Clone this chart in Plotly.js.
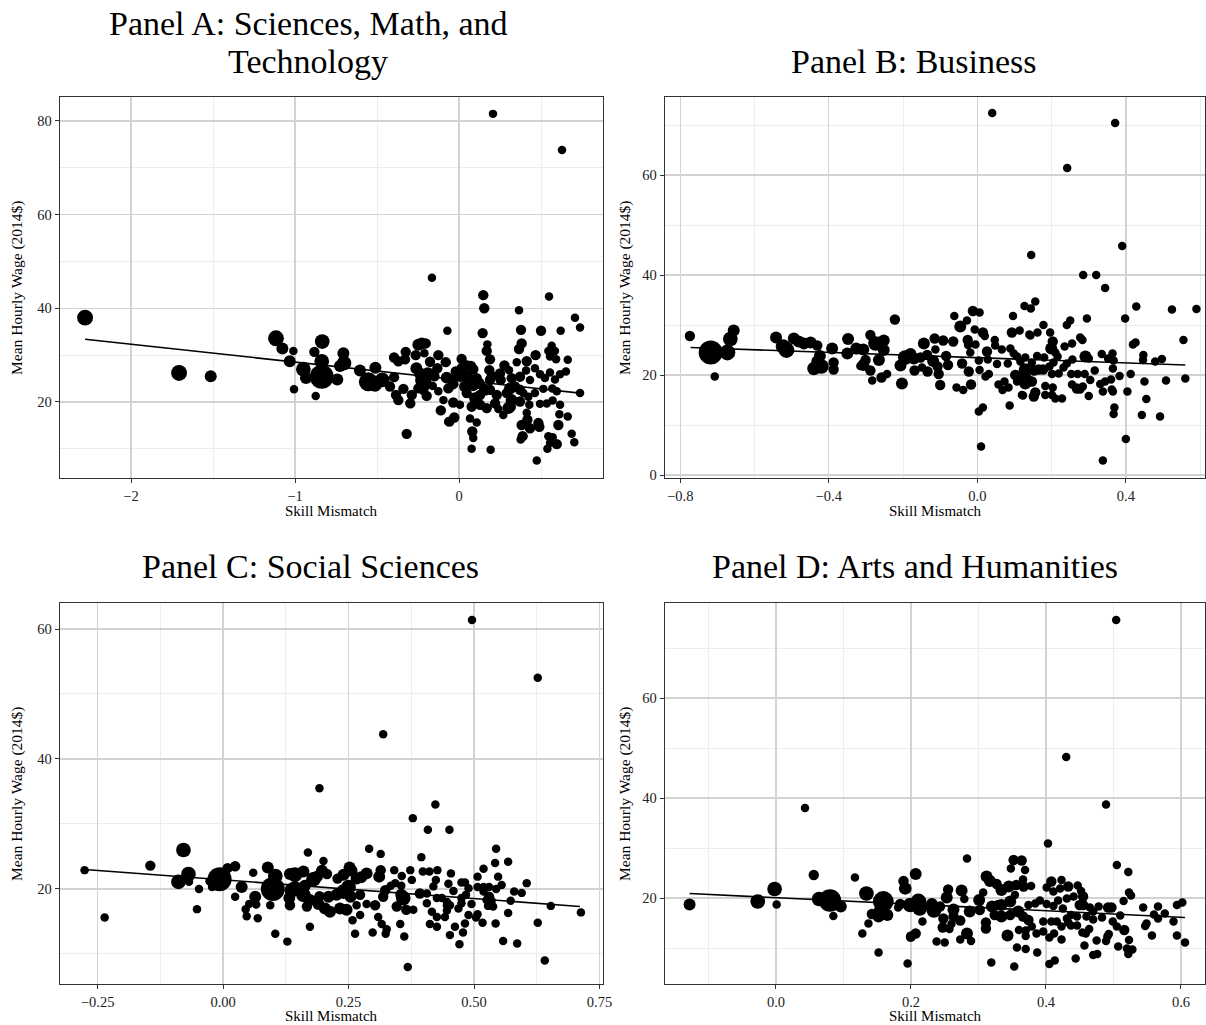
<!DOCTYPE html>
<html>
<head>
<meta charset="utf-8">
<script src="https://cdn.plot.ly/plotly-3.0.1.min.js"></script>
<style>html,body{margin:0;padding:0;background:#fff;}#chart{width:1206px;height:1025px;}</style>
</head>
<body>
<div id="chart"></div>
<script>
// ---------- DATA: [skill mismatch, mean hourly wage (2014$), weight] ----------
const panelA_points = [
[-2.28,38.0,3.5],[-1.707,26.2,3.5],[-1.514,25.5,2],[-1.116,33.6,3.5],[-1.077,31.4,2],[-1.01,30.9,1],[-1.032,28.7,2],[-1.006,22.7,1],
[-0.834,32.9,3],[-0.882,30.7,1.5],[-0.837,28.7,3],[-0.949,27.0,3],[-0.933,25.1,2],[-0.837,25.4,8],[-0.874,21.3,1],[-0.742,24.8,2],
[-0.726,27.7,2],[-0.701,28.3,3],[-0.705,30.4,2],[-0.604,26.7,2],[-0.510,27.3,2],[-0.553,24.3,5],[-0.512,23.6,2.5],[-0.468,24.7,3],
[-0.396,25.3,1.5],[-0.421,23.3,1.5],[-0.384,21.5,1.5],[-0.37,20.4,1.5],[-0.339,22.8,1.5],[-0.319,13.2,1.5],[-0.297,19.7,1.5],[-0.288,21.5,1.5],
[-0.396,29.5,1.5],[-0.37,28.7,1.5],[-0.329,29.1,1.5],[-0.325,30.7,1.5],[-0.264,30.0,1.5],[-0.248,32.2,2],[-0.227,32.5,2],[-0.203,32.5,1.5],
[-0.211,30.4,1],[-0.26,27.2,2],[-0.238,26.1,2],[-0.227,24.7,2.5],[-0.248,22.9,1.5],[-0.218,22.6,1.5],[-0.197,21.3,1.5],[-0.160,23.4,1],
[-0.177,28.6,1.5],[-0.126,30.0,1.5],[-0.132,27.2,1.5],[-0.081,28.5,1.5],[-0.071,35.2,1],[-0.075,25.2,2],[-0.126,22.3,1],[-0.095,20.4,1],
[-0.111,18.2,1.5],[-0.065,15.8,1],[-0.165,46.5,1],[0.207,81.5,1],[0.628,73.8,1],[0.148,42.8,1.5],[0.154,40.0,1.5],[0.549,42.5,1],
[0.366,39.6,1],[0.707,38.0,1],[0.738,35.9,1],[0.144,34.7,1.5],[0.378,35.4,1.5],[0.5,35.2,1.5],[0.62,35.2,1],[0.173,32.3,1],
[0.169,30.9,1.5],[0.382,32.5,1.5],[0.366,31.3,1.5],[0.467,30.0,1.5],[0.545,30.9,1],[0.565,32.0,1],[0.585,30.9,1],[0.555,29.7,1],
[0.592,29.1,1],[0.663,29.0,1],[0.189,29.1,1.5],[0.016,29.2,1.5],[0.352,28.5,1],[0.413,28.7,1.5],[0.073,27.7,1.5],[0.087,27.0,1.5],
[0.185,26.8,1.5],[0.25,26.1,1.5],[0.277,27.8,1.5],[0.305,26.8,1],[0.409,26.7,1],[0.463,27.2,1],[0.555,26.3,1],[0.652,26.5,1],
[0.616,25.9,1],[0.585,24.8,1],[0.494,25.9,1],[0.524,25.1,1],[0.433,24.7,1],[0.372,25.4,1.5],[0.321,25.1,1.5],[0.254,24.7,1.5],
[0.189,24.7,1.5],[0.108,25.1,1.5],[0.016,27.2,1.5],[0.006,25.4,1.5],[-0.039,24.7,1.5],[-0.065,22.9,1.5],[-0.035,23.8,1.5],[0.037,23.3,2],
[0.047,21.9,1.5],[0.087,23.6,2],[0.098,20.8,2],[0.128,21.5,1.5],[0.159,22.6,2],[0.189,22.6,1.5],[0.230,21.5,1.5],[0.291,21.9,1.5],
[0.311,22.9,2],[0.341,23.3,1.5],[0.372,22.6,1.5],[0.392,21.9,1],[0.423,21.1,1],[0.463,21.9,1],[0.514,22.8,1],[0.569,22.9,1],
[0.596,22.3,1],[0.494,19.6,1],[0.535,19.7,1],[0.571,20.3,1],[0.616,19.4,1],[0.738,21.9,1],[-0.035,19.9,1.5],[0.006,19.4,1],
[0.077,19.0,1.5],[0.128,19.4,1.5],[0.169,18.7,1.5],[0.22,19.7,1.5],[0.240,18.5,1],[0.270,17.2,1],[0.311,19.0,2],[0.372,20.1,1.5],
[0.413,17.7,1],[0.429,19.4,1],[0.484,15.5,1.5],[0.490,14.7,1.5],[0.417,16.2,1.5],[0.382,15.1,1.5],[0.388,12.7,1.5],[0.376,12.0,1],
[0.433,14.4,1.5],[0.606,15.1,1.5],[0.612,17.4,1],[0.663,16.9,1],[0.687,13.2,1],[0.703,11.4,1],[0.545,12.7,1],[0.571,12.5,1],
[0.555,11.3,1],[0.596,11.0,1.5],[0.539,10.0,1],[0.474,7.5,1],[0.193,9.8,1],[0.077,10.0,1],[0.081,13.7,1.5],[0.087,12.3,1],
[0.108,15.6,1],[0.067,16.5,1],[-0.029,16.7,1.5],[-0.059,15.8,1.5],[0.301,18.7,2],[0.321,20.4,2],[-0.19,26.0,2.5],[-0.21,24.0,3],
[-0.15,25.5,1.5],[-0.02,26.5,1.5],[0.05,25.5,2],[0.12,24.0,2],[0.2,25.5,1.5],[0.05,27.8,1.5]
];
const panelB_points = [
[-0.774,27.8,1.5],[-0.718,24.5,8],[-0.707,19.7,1],[-0.673,24.5,3.5],[-0.665,27.2,3],[-0.656,28.9,2],[-0.542,27.5,2],[-0.523,25.7,3],
[-0.514,25.0,3.5],[-0.494,27.3,2],[-0.481,26.7,2],[-0.467,26.3,2],[-0.449,26.5,2],[-0.431,25.9,1.5],[-0.424,23.8,2],[-0.431,22.7,2],
[-0.440,21.3,2.5],[-0.42,21.7,3],[-0.391,25.3,2],[-0.387,22.5,1.5],[-0.387,21.1,1.5],[-0.348,27.2,2],[-0.35,24.3,2],[-0.326,25.3,2],
[-0.315,21.8,1],[-0.222,31.1,1.5],[-0.288,28.0,1.5],[-0.274,26.3,3],[-0.252,26.9,2],[-0.307,25.1,2],[-0.252,25.0,2],[-0.301,23.0,1.5],
[-0.265,23.0,2],[-0.307,22.0,2],[-0.288,20.9,1.5],[-0.283,18.9,1],[-0.258,19.5,1.5],[-0.243,20.2,1],[-0.207,21.9,2],[-0.203,18.3,2],
[-0.194,23.5,3],[-0.180,24.2,2],[-0.171,23.3,2],[-0.169,20.9,1.5],[-0.153,23.5,1.5],[-0.149,21.5,1],[-0.144,26.3,2],[-0.135,24.0,1.5],
[-0.134,20.7,1.5],[-0.119,22.8,2],[-0.115,27.3,1.5],[-0.113,25.1,1],[-0.107,21.7,1.5],[-0.104,20.2,1.5],[-0.1,18.0,1.5],[-0.092,26.9,1.5],
[-0.084,23.8,1.5],[-0.079,22.0,1.5],[-0.065,26.7,1.5],[-0.062,31.8,1],[-0.056,17.5,1],[-0.046,29.7,2],[-0.041,22.3,1.5],[-0.038,17.0,1],
[-0.028,30.9,1],[-0.026,27.0,1.5],[-0.025,26.0,1],[-0.023,20.7,1.5],[-0.019,24.5,1],[-0.017,18.1,1.5],[-0.012,32.8,1.5],[-0.007,29.1,1],
[-0.005,26.1,1],[0.004,22.9,1],[0.006,32.5,1],[0.006,21.0,1],[0.004,12.7,1],[0.015,13.5,1],[0.01,5.7,1],[0.015,28.5,1.5],
[0.020,27.8,1],[0.026,24.7,1.5],[0.028,23.1,1],[0.022,19.7,1],[0.031,20.2,1],[0.047,27.0,1],[0.048,25.9,1],[0.053,22.2,1],
[0.057,18.1,1],[0.066,25.1,1],[0.068,17.0,1],[0.073,18.7,1],[0.082,22.3,1],[0.084,17.5,1],[0.087,13.9,1],[0.089,25.3,1],
[0.093,28.5,1.5],[0.096,31.8,1],[0.098,24.3,1],[0.102,20.0,1.5],[0.107,23.7,1],[0.107,18.7,1],[0.114,28.9,1],[0.116,22.7,1],
[0.120,16.0,1],[0.125,19.7,2],[0.127,33.8,1],[0.129,18.3,2],[0.140,28.1,1],[0.144,33.3,1],[0.156,34.7,1],[0.178,30.0,1],
[0.162,28.5,1],[0.143,27.9,1],[0.196,28.5,1],[0.203,26.7,1.5],[0.199,25.3,2],[0.210,24.5,1],[0.216,23.7,1],[0.235,25.7,1],
[0.255,26.3,1],[0.241,30.0,1],[0.250,30.9,1],[0.295,31.3,1],[0.277,27.5,1],[0.283,27.0,1],[0.129,23.5,1],[0.161,23.8,1],
[0.180,23.5,1],[0.147,22.5,1],[0.205,22.5,1],[0.241,22.3,1],[0.256,23.1,1],[0.291,23.7,2],[0.300,23.3,1],[0.335,24.2,1],
[0.352,23.3,1],[0.364,24.3,1],[0.367,22.9,1],[0.129,21.0,2.5],[0.125,20.2,2],[0.129,19.0,3],[0.147,18.7,1.5],[0.153,20.9,1.5],
[0.165,21.1,1.5],[0.177,21.1,1.5],[0.194,21.7,1],[0.201,20.2,1],[0.219,20.3,1],[0.232,21.5,1],[0.253,20.2,1],[0.27,20.2,1],
[0.289,20.2,1],[0.316,20.9,1],[0.304,19.0,1],[0.331,18.2,1],[0.344,18.7,1],[0.360,19.1,1],[0.365,21.3,1],[0.383,19.8,1],
[0.413,20.2,1],[0.255,18.1,1],[0.268,17.3,1.5],[0.277,17.1,1],[0.284,17.7,1],[0.300,15.8,1],[0.183,17.8,1],[0.203,17.5,1],
[0.183,16.0,1],[0.201,16.0,1],[0.210,15.3,1],[0.228,15.3,1],[0.156,16.5,1.5],[0.152,15.7,1.5],[0.123,15.9,1],[0.338,16.7,1],
[0.362,17.1,1],[0.365,16.7,1],[0.404,16.7,1],[0.369,13.5,1],[0.367,12.2,1],[0.400,7.2,1],[0.338,2.9,1],[0.398,31.3,1],
[0.419,26.1,1],[0.426,26.5,1],[0.428,33.7,1],[0.447,24.0,1],[0.446,23.0,1],[0.479,22.7,1],[0.497,23.2,1],[0.450,18.7,1],
[0.455,15.2,1],[0.443,12.0,1],[0.492,11.7,1],[0.508,18.9,1],[0.524,33.1,1],[0.555,27.0,1],[0.560,19.3,1],[0.59,33.2,1],
[0.04,72.4,1],[0.371,70.4,1],[0.242,61.4,1],[0.145,44.0,1],[0.39,45.8,1],[0.285,40.0,1],[0.32,40.0,1],[0.344,37.4,1]
];
const panelC_points = [
[-0.276,22.9,1],[-0.236,15.6,1],[-0.145,23.6,1.5],[-0.079,26.0,3],[-0.069,22.3,3],[-0.089,21.1,3],[-0.068,21.1,1],[-0.052,16.9,1],
[-0.048,20.0,1],[-0.027,21.2,1],[-0.022,20.3,1],[-0.007,21.5,8],[0.009,23.2,1.5],[0.024,23.5,1.5],[0.024,18.8,1],[0.037,20.3,2],
[0.045,16.9,1],[0.047,15.8,1],[0.052,17.7,1],[0.060,22.5,1],[0.064,18.8,2],[0.066,17.6,1],[0.069,15.5,1],[0.089,23.3,2],
[0.094,17.5,1],[0.104,13.1,1],[0.099,20.0,8],[0.104,22.0,3],[0.128,11.9,1],[0.133,22.3,2],[0.132,18.6,2],[0.135,17.5,1],
[0.143,20.1,3],[0.192,35.5,1],[0.423,33.0,1],[0.378,30.9,1],[0.408,29.1,1],[0.451,29.1,1],[0.169,25.6,1],[0.2,24.3,1],
[0.291,26.2,1],[0.314,25.4,1],[0.395,24.9,1],[0.143,22.2,3],[0.160,22.7,2],[0.180,21.5,3],[0.187,21.9,2],[0.197,22.8,2],
[0.207,22.3,1.5],[0.228,21.6,1.5],[0.240,22.2,2],[0.252,23.3,2],[0.256,22.8,2],[0.266,21.6,2],[0.275,21.8,2],[0.286,22.4,2],
[0.311,21.9,2],[0.314,22.9,1.5],[0.341,22.9,1],[0.356,22.0,1],[0.373,22.9,1],[0.376,21.4,1],[0.398,22.7,1],[0.411,22.7,1],
[0.427,22.9,1],[0.424,21.4,1],[0.137,19.8,3],[0.163,20.5,2],[0.160,19.1,3],[0.173,18.3,2],[0.192,18.9,1.5],[0.210,18.8,2],
[0.226,19.1,2],[0.240,19.6,3],[0.250,20.3,3],[0.254,18.8,2],[0.273,19.1,1.5],[0.286,17.7,1],[0.303,17.5,1.5],[0.319,18.8,1.5],
[0.323,19.8,1.5],[0.334,20.5,1],[0.343,20.9,1],[0.355,20.5,1],[0.355,19.1,2],[0.359,18.6,3],[0.346,17.3,1.5],[0.365,16.8,1.5],
[0.379,16.8,1],[0.392,19.3,1.5],[0.406,19.3,1],[0.419,20.4,1],[0.426,18.6,1],[0.436,18.6,1],[0.446,18.0,1],[0.406,17.8,1],
[0.416,16.5,1],[0.426,15.7,1],[0.442,15.7,1],[0.412,14.6,1],[0.426,14.2,1],[0.133,17.5,1.5],[0.167,17.3,1.5],[0.190,17.7,2],
[0.203,17.0,2],[0.213,16.5,2],[0.233,17.0,2],[0.246,16.8,2],[0.266,17.5,1],[0.273,16.0,1],[0.258,15.2,1],[0.309,15.7,1],
[0.316,14.6,1],[0.326,13.8,1],[0.324,13.1,1],[0.298,13.3,1],[0.263,13.1,1],[0.353,14.6,1],[0.361,12.7,1],[0.173,14.2,1],
[0.368,8.0,1],[0.452,12.9,1],[0.544,26.2,1],[0.542,24.0,1],[0.568,24.2,1],[0.519,23.1,1],[0.454,22.4,1],[0.548,21.9,1],
[0.507,21.9,1],[0.475,21.0,1],[0.482,21.0,1],[0.449,20.8,1],[0.459,19.7,1],[0.489,20.1,1],[0.507,20.3,1],[0.519,20.3,1],
[0.530,20.3,1],[0.519,19.6,1],[0.544,20.0,1],[0.555,20.6,1],[0.580,19.6,1],[0.595,19.4,1],[0.605,20.9,1],[0.484,19.1,1],
[0.475,18.6,1],[0.530,18.8,1.5],[0.525,18.3,1],[0.535,18.2,1],[0.573,18.2,1],[0.446,17.5,1],[0.452,17.5,1],[0.475,17.8,1],
[0.495,17.7,1],[0.528,17.4,1],[0.538,17.3,1],[0.446,16.7,1],[0.469,17.0,1],[0.489,16.0,1],[0.507,16.1,1],[0.504,15.6,1],
[0.568,16.3,1],[0.462,14.2,1],[0.482,14.7,1],[0.517,14.8,1],[0.543,14.7,1],[0.478,13.3,1],[0.471,11.5,1],[0.558,12.0,1],
[0.586,11.6,1],[0.627,14.8,1],[0.653,17.4,1],[0.713,16.4,1],[0.641,9.0,1],[0.496,61.4,1],[0.627,52.5,1],[0.319,43.8,1]
];
const panelD_points = [
[-0.128,18.7,2],[-0.027,19.3,3],[-0.002,21.8,3],[0.001,18.7,1],[0.056,24.6,1.5],[0.064,19.8,3],[0.080,19.5,7],[0.096,18.3,2],
[0.085,16.4,1],[0.117,24.1,1],[0.134,20.9,3],[0.159,19.3,6],[0.153,17.3,2],[0.142,16.8,1.5],[0.152,16.3,2],[0.165,16.6,2],
[0.137,14.9,1],[0.128,12.9,1],[0.152,9.1,1],[0.181,18.1,1],[0.185,18.8,1],[0.188,23.3,1],[0.192,21.9,2],[0.197,18.6,2],
[0.195,6.9,1],[0.199,12.1,1],[0.043,38.0,1],[0.403,30.9,1],[0.283,27.9,1],[0.352,27.6,1.5],[0.364,27.5,1.5],[0.348,25.9,1],
[0.369,25.6,1],[0.207,24.8,2],[0.189,23.4,1.5],[0.191,21.9,2],[0.312,24.3,2],[0.317,23.4,2],[0.327,22.8,1.5],[0.334,21.6,2],
[0.345,22.3,2],[0.356,22.6,1.5],[0.366,23.7,1],[0.367,22.3,1.5],[0.378,22.4,1],[0.401,22.1,1],[0.408,23.3,1.5],[0.411,21.3,1],
[0.255,21.7,1.5],[0.275,21.5,2],[0.253,20.1,2],[0.279,19.8,1],[0.307,21.1,1],[0.301,19.6,2],[0.334,18.6,2],[0.347,19.3,2],
[0.354,20.6,1],[0.374,18.6,1],[0.384,18.9,1],[0.391,19.5,1],[0.401,18.8,1],[0.411,18.4,1],[0.418,19.5,1],[0.184,18.8,1.5],
[0.199,18.6,3],[0.211,19.3,3.5],[0.213,17.9,3],[0.231,18.8,2],[0.234,17.5,3],[0.243,18.3,1.5],[0.263,17.7,2],[0.287,17.3,2],
[0.302,17.6,1.5],[0.320,18.3,2],[0.329,18.6,1.5],[0.324,16.6,1.5],[0.334,16.3,2],[0.347,16.6,1.5],[0.359,17.3,2],[0.366,16.3,1.5],
[0.374,15.6,1.5],[0.379,14.3,1],[0.396,15.3,1],[0.408,15.3,1],[0.416,15.3,1],[0.217,15.3,1],[0.248,15.9,1.5],[0.263,16.3,1.5],
[0.273,15.5,1.5],[0.260,14.8,1],[0.247,14.1,1.5],[0.257,13.8,1],[0.311,15.1,1.5],[0.311,13.9,1.5],[0.283,12.9,2],[0.207,12.9,1.5],
[0.200,12.3,1.5],[0.238,11.3,1],[0.250,11.1,1],[0.273,11.7,1],[0.289,11.4,1],[0.343,12.5,2],[0.360,13.6,1],[0.370,13.5,1],
[0.370,12.4,1],[0.386,12.9,1],[0.396,13.3,1],[0.405,12.1,1],[0.412,12.9,1],[0.357,10.1,1],[0.370,9.8,1],[0.387,9.1,1],
[0.319,7.1,1],[0.353,6.3,1],[0.405,6.8,1],[0.413,7.5,1],[0.489,38.7,1],[0.505,26.6,1],[0.522,25.2,1],[0.523,21.1,1],
[0.526,20.5,1],[0.515,19.4,1],[0.423,23.6,1],[0.421,21.9,1],[0.433,22.3,1.5],[0.447,22.5,1],[0.452,21.4,1],[0.455,20.3,1.5],
[0.441,20.3,1],[0.431,19.9,1],[0.425,17.9,1],[0.450,18.6,1.5],[0.455,18.6,1.5],[0.465,18.1,1],[0.478,18.3,1],[0.492,18.1,1.5],
[0.497,18.1,1.5],[0.510,16.5,1],[0.470,17.3,1],[0.483,16.1,1],[0.470,15.7,1],[0.460,16.3,1],[0.446,16.3,1],[0.437,16.6,1],
[0.431,15.9,1],[0.423,14.3,1],[0.433,15.1,1],[0.437,14.5,1],[0.446,14.5,1],[0.454,13.1,1],[0.459,12.9,1],[0.464,13.8,1],
[0.499,15.3,1],[0.505,14.3,1],[0.516,13.6,1.5],[0.491,12.3,1],[0.493,12.8,1],[0.489,11.4,1],[0.475,11.5,1],[0.457,10.5,1],
[0.423,11.7,1],[0.444,7.9,1],[0.470,8.6,1],[0.476,8.8,1],[0.507,10.3,1],[0.523,11.6,1],[0.520,9.9,1],[0.528,9.7,1],
[0.522,8.8,1],[0.544,18.1,1],[0.560,16.7,1],[0.566,18.3,1],[0.566,15.9,1],[0.576,16.9,1],[0.549,14.9,1],[0.547,14.4,1],
[0.557,12.5,1],[0.589,15.3,1],[0.594,18.6,1],[0.602,19.1,1],[0.594,12.5,1],[0.606,11.1,1],[0.504,75.6,1],[0.43,48.2,1]
];
// fitted lines (endpoints)
const fitA_x = [-2.28, 0.738], fitA_y = [33.4, 21.9];
const fitB_x = [-0.772, 0.560], fitB_y = [25.5, 22.0];
const fitC_x = [-0.276, 0.711], fitC_y = [23.0, 17.3];
const fitD_x = [-0.128, 0.606], fitD_y = [20.9, 16.1];

// titles and tick labels
const panelTitles = ["Panel A: Sciences, Math, and<br>Technology", "Panel B: Business", "Panel C: Social Sciences", "Panel D: Arts and Humanities"];
const xTitle = "Skill Mismatch";
const yTitle = "Mean Hourly Wage (2014$)";
const xTicksA = [-2, -1, 0], xLabelsA = ["\u22122", "\u22121", "0"];
const yTicksA = [20, 40, 60, 80], yLabelsA = ["20", "40", "60", "80"];
const xTicksB = [-0.8, -0.4, 0, 0.4], xLabelsB = ["\u22120.8", "\u22120.4", "0.0", "0.4"];
const yTicksB = [0, 20, 40, 60], yLabelsB = ["0", "20", "40", "60"];
const xTicksC = [-0.25, 0, 0.25, 0.5, 0.75], xLabelsC = ["\u22120.25", "0.00", "0.25", "0.50", "0.75"];
const yTicksC = [20, 40, 60], yLabelsC = ["20", "40", "60"];
const xTicksD = [0, 0.2, 0.4, 0.6], xLabelsD = ["0.0", "0.2", "0.4", "0.6"];
const yTicksD = [20, 40, 60], yLabelsD = ["20", "40", "60"];
const xMinorA = [-2.5, -1.5, -0.5, 0.5], yMinorA = [10, 30, 50, 70];
const xMinorB = [-0.6, -0.2, 0.2, 0.6], yMinorB = [10, 30, 50, 70];
const xMinorC = [-0.125, 0.125, 0.375, 0.625], yMinorC = [10, 30, 50];
const xMinorD = [-0.1, 0.1, 0.3, 0.5], yMinorD = [10, 30, 50, 70];

// ---------- BUILD ----------
const W = 1206, H = 1025;
const FONT = "Liberation Serif, Times New Roman, serif";
const sizeRef = 1 / 36;

function scatter(points, xa, ya) {
  return {
    type: "scatter", mode: "markers", xaxis: xa, yaxis: ya,
    x: points.map(p => p[0]), y: points.map(p => p[1]),
    marker: { size: points.map(p => p[2]), sizemode: "area", sizeref: sizeRef, color: "#000", opacity: 1, line: { width: 0 } },
    hoverinfo: "skip"
  };
}
function fit(xs, ys, xa, ya) {
  return { type: "scatter", mode: "lines", x: xs, y: ys, xaxis: xa, yaxis: ya,
    line: { color: "#000", width: 1.6 }, hoverinfo: "skip" };
}
function axis(domain, range, tickvals, ticktext, minorvals, anchor) {
  return {
    domain: domain, range: range, anchor: anchor, autorange: false,
    tickmode: "array", tickvals: tickvals, ticktext: ticktext,
    showline: true, linecolor: "#333", linewidth: 1.4, mirror: true,
    ticks: "outside", ticklen: 4, tickwidth: 1, tickcolor: "#333",
    showgrid: true, gridcolor: "#d2d2d2", gridwidth: 1.3, zeroline: false,
    tickfont: { family: FONT, size: 14.5, color: "#222" },
    minor: { tickmode: "array", tickvals: minorvals, showgrid: true, gridcolor: "#ededed", gridwidth: 1, ticks: "" },
    fixedrange: true
  };
}
const px = v => v / W, py = v => 1 - v / H;

const data = [
  scatter(panelA_points, "x", "y"), fit(fitA_x, fitA_y, "x", "y"),
  scatter(panelB_points, "x2", "y2"), fit(fitB_x, fitB_y, "x2", "y2"),
  scatter(panelC_points, "x3", "y3"), fit(fitC_x, fitC_y, "x3", "y3"),
  scatter(panelD_points, "x4", "y4"), fit(fitD_x, fitD_y, "x4", "y4")
];

const topRowY = [py(477.7), py(97)], botRowY = [py(984), py(603)];
const leftX = [px(60), px(603)], rightX = [px(665), px(1205)];

const layout = {
  width: W, height: H, margin: { l: 0, r: 0, t: 0, b: 0 },
  paper_bgcolor: "#fff", plot_bgcolor: "#fff", showlegend: false,
  font: { family: FONT, color: "#000" },
  xaxis: axis(leftX, [-2.433, 0.878], xTicksA, xLabelsA, xMinorA, "y"),
  yaxis: axis(topRowY, [3.84, 85.1], yTicksA, yLabelsA, yMinorA, "x"),
  xaxis2: axis(rightX, [-0.841, 0.613], xTicksB, xLabelsB, xMinorB, "y2"),
  yaxis2: axis(topRowY, [-0.54, 75.6], yTicksB, yLabelsB, yMinorB, "x2"),
  xaxis3: axis(leftX, [-0.325, 0.757], xTicksC, xLabelsC, xMinorC, "y3"),
  yaxis3: axis(botRowY, [5.38, 64.0], yTicksC, yLabelsC, yMinorC, "x3"),
  xaxis4: axis(rightX, [-0.1644, 0.6356], xTicksD, xLabelsD, xMinorD, "y4"),
  yaxis4: axis(botRowY, [2.8, 79.0], yTicksD, yLabelsD, yMinorD, "x4"),
  annotations: []
};

// panel titles; multi-line titles are stacked line by line
const titleCenters = [[308, 23, 38], [914, 61, 0], [310, 566, 0], [915, 566, 0]];
panelTitles.forEach((t, i) => {
  const lines = t.split("<br>");
  const [cx, cy, step] = titleCenters[i];
  lines.forEach((ln, k) => {
    layout.annotations.push({ text: ln, xref: "paper", yref: "paper", x: px(cx), y: py(cy + k * step),
      xanchor: "center", yanchor: "middle", showarrow: false, font: { family: FONT, size: 34, color: "#000" } });
  });
});
const xTitlePos = [[331.5, 511], [935, 511], [331.5, 1016], [935, 1016]];
xTitlePos.forEach(p => layout.annotations.push({ text: xTitle, xref: "paper", yref: "paper", x: px(p[0]), y: py(p[1]),
  xanchor: "center", yanchor: "middle", showarrow: false, font: { family: FONT, size: 15, color: "#000" } }));
const yTitlePos = [[17, 288], [625, 288], [17, 794], [625, 794]];
yTitlePos.forEach(p => layout.annotations.push({ text: yTitle, xref: "paper", yref: "paper", x: px(p[0]), y: py(p[1]),
  xanchor: "center", yanchor: "middle", textangle: -90, showarrow: false, font: { family: FONT, size: 15.5, color: "#000" } }));

Plotly.newPlot("chart", data, layout, { staticPlot: true, displayModeBar: false });
</script>
</body>
</html>
